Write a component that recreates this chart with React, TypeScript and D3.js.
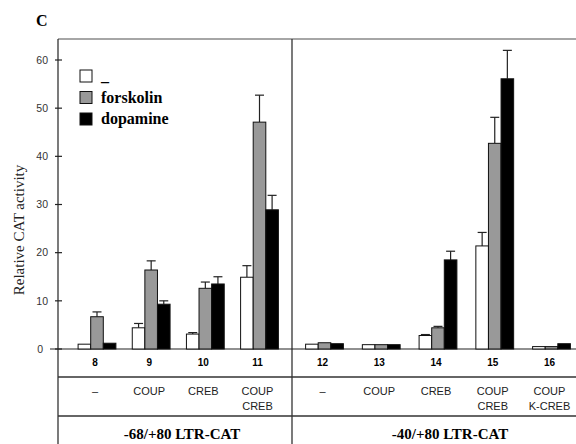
import React from "react";
import * as d3 from "d3";

const lanes = ["8", "9", "10", "11", "12", "13", "14", "15", "16"];
const constructs = [["–"], ["COUP"], ["CREB"], ["COUP", "CREB"], ["–"], ["COUP"], ["CREB"], ["COUP", "CREB"], ["COUP", "K-CREB"]];
const panels = ["-68/+80 LTR-CAT", "-40/+80 LTR-CAT"];
const panelLanes = [["8", "9", "10", "11"], ["12", "13", "14", "15", "16"]];
const seriesNames = ["_", "forskolin", "dopamine"];
const seriesColors = ["#ffffff", "#999999", "#000000"];
const control = [1.0, 4.4, 3.1, 14.9, 1.0, 0.9, 2.8, 21.4, 0.5];
const controlErr = [0, 0.9, 0.3, 2.4, 0, 0, 0.2, 2.8, 0];
const forskolin = [6.7, 16.4, 12.6, 47.1, 1.3, 0.9, 4.4, 42.7, 0.5];
const forskolinErr = [1.0, 1.9, 1.3, 5.6, 0, 0, 0.3, 5.4, 0];
const dopamine = [1.2, 9.3, 13.5, 28.9, 1.1, 0.9, 18.5, 56.1, 1.1];
const dopamineErr = [0, 0.7, 1.5, 3.0, 0, 0, 1.8, 5.9, 0];
const yTicks = [0, 10, 20, 30, 40, 50, 60];

const W = 576, H = 444;
const axisX = 58, divX = 292, rightX = 576, topY = 39, baseY = 349;
const row1Y = 377, row2Y = 416;
const BW = 12.6;

export default function App() {
  const y = d3.scaleLinear().domain([0, 60]).range([baseY, 60]);
  const xL = d3.scalePoint<string>().domain(panelLanes[0]).range([97, 259.5]);
  const xR = d3.scalePoint<string>().domain(panelLanes[1]).range([324.5, 551.5]);
  const xc = (lane: string) => (panelLanes[0].includes(lane) ? xL(lane)! : xR(lane)!);
  const series = [
    { v: control, e: controlErr },
    { v: forskolin, e: forskolinErr },
    { v: dopamine, e: dopamineErr },
  ];
  const sans = "'Liberation Sans', Arial, sans-serif";
  const serif = "'Liberation Serif', 'Times New Roman', serif";

  return (
    <svg width={W} height={H} style={{ position: "absolute", left: 0, top: 0, background: "#fff" }}>
      <text x={36} y={26} fontFamily={serif} fontWeight="bold" fontSize={16}>C</text>
      {/* frame */}
      <line x1={axisX} x2={rightX} y1={topY} y2={topY} stroke="#888" strokeWidth={1.6} />
      <line x1={axisX} x2={axisX} y1={topY} y2={H} stroke="#222" strokeWidth={1.2} />
      <line x1={divX} x2={divX} y1={topY} y2={H} stroke="#333" strokeWidth={1.3} />
      <line x1={50} x2={rightX} y1={baseY} y2={baseY} stroke="#222" strokeWidth={1.2} />
      <line x1={axisX} x2={rightX} y1={row1Y} y2={row1Y} stroke="#333" strokeWidth={1.3} />
      <line x1={axisX} x2={rightX} y1={row2Y} y2={row2Y} stroke="#333" strokeWidth={1.3} />
      {/* y axis */}
      {yTicks.map((t) => (
        <g key={t}>
          <line x1={55} x2={62} y1={y(t)} y2={y(t)} stroke="#222" strokeWidth={1.2} />
          <text x={t === 0 ? 43 : 48} y={y(t) + 3.8} textAnchor="end" fontFamily={sans} fontSize={10.5} fill="#333">{t}</text>
        </g>
      ))}
      <text transform={`translate(24,230) rotate(-90)`} textAnchor="middle" fontFamily={serif} fontSize={15} fill="#222">
        Relative CAT activity
      </text>
      {/* bars */}
      {lanes.map((lane, i) => (
        <g key={lane}>
          {series.map((s, k) => {
            const x0 = xc(lane) + (k - 1.5) * BW;
            const top = y(s.v[i]);
            const cx = x0 + BW / 2;
            return (
              <g key={k}>
                {s.e[i] > 0 && (
                  <g stroke="#222" strokeWidth={1.2}>
                    <line x1={cx} x2={cx} y1={top} y2={y(s.v[i] + s.e[i])} />
                    <line x1={cx - 4.5} x2={cx + 4.5} y1={y(s.v[i] + s.e[i])} y2={y(s.v[i] + s.e[i])} />
                  </g>
                )}
                <rect x={x0} y={top} width={BW} height={baseY - top} fill={seriesColors[k]} stroke="#111" strokeWidth={1} />
              </g>
            );
          })}
          <text x={xc(lane) - 2} y={366} textAnchor="middle" fontFamily={sans} fontWeight="bold" fontSize={10}>{lane}</text>
          {constructs[i].map((c, j) => (
            <text key={j} x={xc(lane) - 2} y={395 + j * 15} textAnchor="middle" fontFamily={sans} fontSize={11} fill="#222">{c}</text>
          ))}
        </g>
      ))}
      {/* legend */}
      {seriesNames.map((n, k) => (
        <g key={n}>
          <rect x={80} y={70 + k * 21.5} width={12} height={12} fill={seriesColors[k]} stroke="#111" strokeWidth={1} />
          <text x={101} y={81 + k * 21.5} fontFamily={serif} fontWeight="bold" fontSize={16}>{n}</text>
        </g>
      ))}
      {/* panel labels */}
      <text x={182} y={439} textAnchor="middle" fontFamily={serif} fontWeight="bold" fontSize={15}>{panels[0]}</text>
      <text x={450} y={439} textAnchor="middle" fontFamily={serif} fontWeight="bold" fontSize={15}>{panels[1]}</text>
    </svg>
  );
}
